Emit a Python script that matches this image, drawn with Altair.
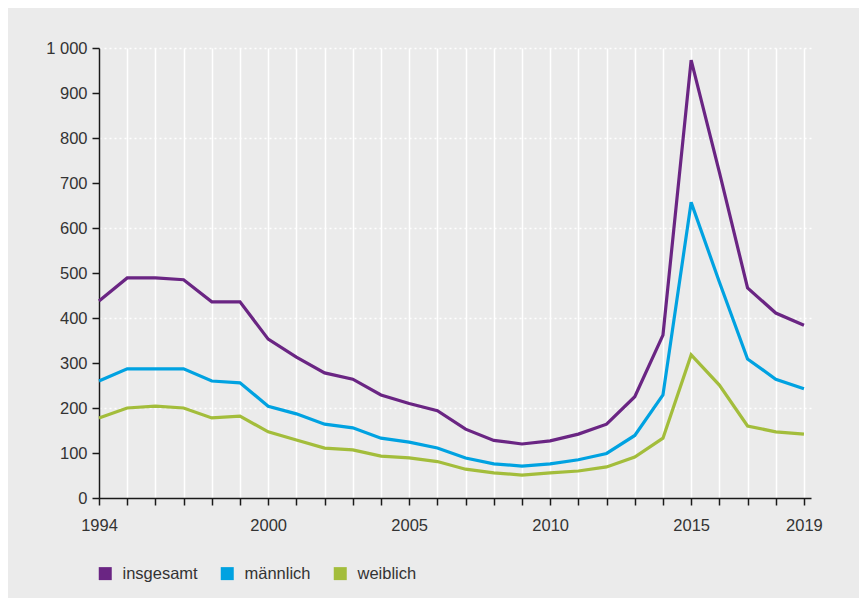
import altair as alt
import pandas as pd

years = list(range(1994, 2020))
insgesamt = [438, 489, 489, 485, 436, 436, 353, 313, 278, 264, 229, 210, 194, 153, 128, 120, 127, 142, 164, 225, 362, 973, 724, 467, 411, 384]
maennlich = [260, 287, 287, 287, 260, 256, 204, 187, 164, 156, 133, 124, 111, 89, 76, 71, 76, 85, 99, 139, 229, 657, 480, 309, 264, 243]
weiblich = [178, 200, 204, 200, 178, 182, 147, 129, 111, 107, 93, 89, 81, 64, 56, 51, 56, 60, 69, 91, 133, 318, 251, 160, 147, 142]
series = ["insgesamt", "männlich", "weiblich"]
colors = ["#6a2583", "#00a2e1", "#a3bd3b"]
label_years = [1994, 2000, 2005, 2010, 2015, 2019]

rows = []
for name, vals in zip(series, [insgesamt, maennlich, weiblich]):
    for y, v in zip(years, vals):
        rows.append({"Jahr": y, "Wert": v, "Gruppe": name})
df = pd.DataFrame(rows)

font = "Liberation Sans"
fs = 16.5
label_expr = "indexof([" + ",".join(str(y) for y in label_years) + "], datum.value) >= 0 ? datum.value : ''"

chart = alt.Chart(df).mark_line(strokeWidth=3.2).encode(
    x=alt.X("Jahr:Q",
            scale=alt.Scale(domain=[1994, 2019.25], nice=False, zero=False),
            axis=alt.Axis(values=years, labelExpr=label_expr, title=None,
                          grid=True, gridColor="white", gridWidth=1.5,
                          domainColor="#1a1a1a", domainWidth=1.5,
                          tickColor="#1a1a1a", tickWidth=1.5, tickSize=7,
                          labelFont=font, labelFontSize=fs, labelColor="#333333",
                          labelPadding=12, labelFlush=False)),
    y=alt.Y("Wert:Q",
            scale=alt.Scale(domain=[0, 1000], nice=False),
            axis=alt.Axis(values=list(range(0, 1001, 100)), title=None,
                          labelExpr="datum.value >= 1000 ? '1 000' : datum.value",
                          grid=True, gridColor="white", gridWidth=1.5, gridDash=[2, 3],
                          gridOpacity=alt.condition("datum.value % 200 == 0 && datum.value > 0", alt.value(1), alt.value(0)),
                          domainColor="#1a1a1a", domainWidth=1.5,
                          tickColor="#1a1a1a", tickWidth=1.5, tickSize=7,
                          labelFont=font, labelFontSize=fs, labelColor="#333333",
                          labelPadding=5)),
    color=alt.Color("Gruppe:N",
                    scale=alt.Scale(domain=series, range=colors),
                    legend=alt.Legend(title=None, orient="none", legendX=-2, legendY=517,
                                      direction="horizontal", symbolType="square",
                                      symbolSize=36, symbolStrokeWidth=7,
                                      labelFont=font, labelFontSize=fs, labelColor="#333333",
                                      columnPadding=12, labelOffset=9)),
).properties(
    width=712, height=450,
    background="#ebebeb",
    padding={"left": 91, "top": 40, "right": 48, "bottom": 100},
    autosize=alt.AutoSizeParams(type="none"),
).configure_view(stroke=None, fill="#ebebeb")

chart.save("out.html", embed_options={"renderer": "svg", "actions": False})
